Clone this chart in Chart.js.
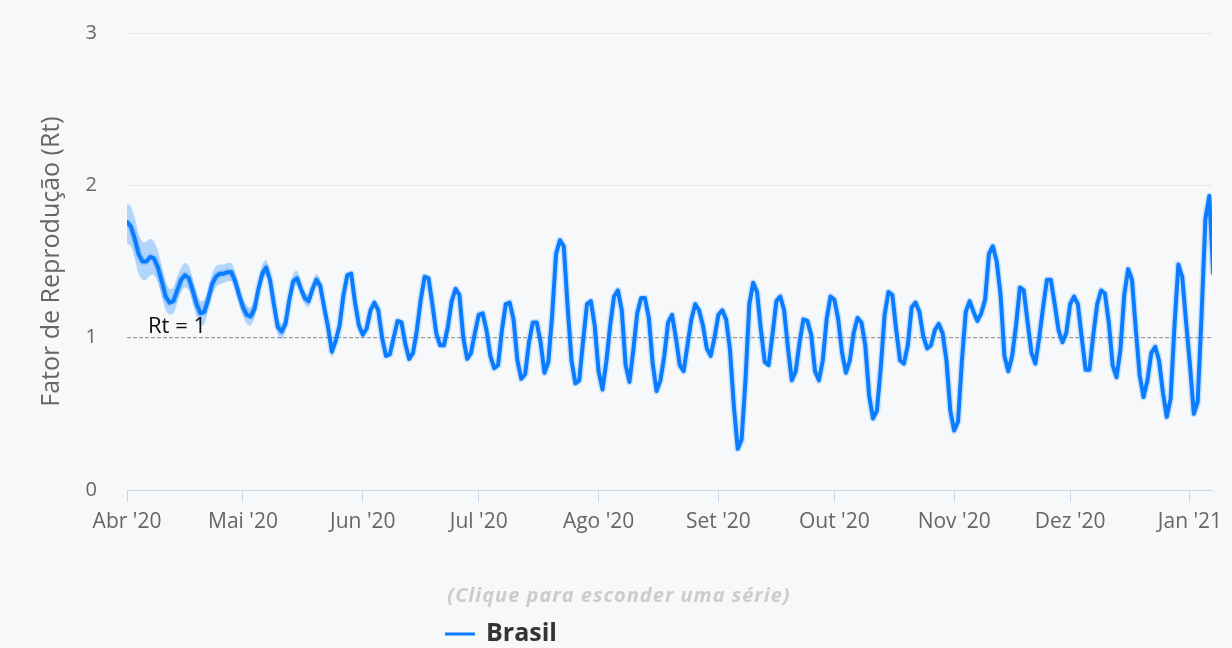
<!DOCTYPE html>
<html><head><meta charset="utf-8">
<script src="https://cdn.jsdelivr.net/npm/chart.js@4.4.1/dist/chart.umd.min.js"></script>
<style>
html,body{margin:0;padding:0;background:#f7f8fa;}
canvas{display:block;}
</style></head><body>
<canvas id="c" width="1232" height="648"></canvas>
<script>
// day index 0 = 1 Apr 2020
const monthTickDays = [0, 30, 61, 91, 122, 153, 183, 214, 244, 275];
const monthLabels = ["Abr '20", "Mai '20", "Jun '20", "Jul '20", "Ago '20", "Set '20", "Out '20", "Nov '20", "Dez '20", "Jan '21"];
const yTicks = [0, 1, 2, 3];
const seriesName = 'Brasil';
const yTitle = 'Fator de Reprodução (Rt)';
const refValue = 1;
const refLabel = 'Rt = 1';
const hintText = '(Clique para esconder uma série)';
const xMax = 280.7;

const rt = [
 1.76,1.73,1.65,1.55,1.50,1.50,1.53,1.52,1.46,1.37,
 1.27,1.23,1.24,1.31,1.38,1.41,1.39,1.31,1.22,1.16,
 1.17,1.25,1.35,1.40,1.42,1.42,1.43,1.43,1.37,1.28,
 1.20,1.15,1.14,1.19,1.32,1.42,1.46,1.38,1.22,1.07,
 1.04,1.09,1.25,1.37,1.39,1.32,1.26,1.24,1.32,1.38,
 1.34,1.20,1.07,0.91,0.98,1.08,1.28,1.41,1.42,1.23,
 1.08,1.02,1.06,1.18,1.23,1.18,1.00,0.88,0.89,1.00,
 1.11,1.10,0.96,0.86,0.90,1.05,1.25,1.40,1.39,1.22,
 1.03,0.95,0.95,1.07,1.24,1.32,1.28,1.00,0.86,0.90,
 1.03,1.15,1.16,1.05,0.88,0.80,0.82,1.05,1.22,1.23,
 1.12,0.85,0.73,0.76,0.97,1.10,1.10,0.97,0.77,0.84,
 1.15,1.55,1.64,1.60,1.20,0.85,0.70,0.72,0.98,1.22,
 1.24,1.08,0.78,0.66,0.84,1.08,1.27,1.31,1.18,0.82,
 0.71,0.92,1.16,1.26,1.26,1.13,0.83,0.65,0.72,0.88,
 1.10,1.15,1.00,0.82,0.78,0.95,1.12,1.22,1.18,1.08,
 0.93,0.88,1.00,1.15,1.18,1.12,0.92,0.55,0.27,0.33,
 0.72,1.22,1.36,1.30,1.05,0.84,0.82,1.02,1.24,1.27,
 1.18,0.93,0.72,0.78,0.97,1.12,1.11,1.02,0.78,0.72,
 0.85,1.12,1.27,1.25,1.12,0.90,0.77,0.85,1.03,1.13,
 1.10,0.95,0.62,0.47,0.52,0.80,1.15,1.30,1.28,1.05,
 0.85,0.83,0.95,1.20,1.23,1.17,1.01,0.93,0.95,1.05,
 1.09,1.03,0.85,0.52,0.39,0.45,0.85,1.17,1.24,1.17,
 1.11,1.16,1.25,1.55,1.60,1.50,1.28,0.88,0.78,0.88,
 1.08,1.33,1.31,1.10,0.90,0.83,1.00,1.20,1.38,1.38,
 1.22,1.05,0.97,1.03,1.22,1.27,1.22,1.00,0.79,0.79,
 1.02,1.22,1.31,1.29,1.10,0.82,0.74,0.92,1.28,1.45,
 1.38,1.05,0.75,0.61,0.72,0.90,0.94,0.85,0.64,0.48,
 0.60,1.08,1.48,1.40,1.10,0.82,0.50,0.58,1.15,1.78,
 1.93,1.42
];

// confidence band (visible in the first weeks)
const bandLow = [
 1.62,1.60,1.52,1.42,1.38,1.38,1.41,1.41,1.36,1.27,
 1.18,1.15,1.16,1.23,1.30,1.33,1.31,1.23,1.14,1.08,
 1.09,1.18,1.28,1.33,1.35,1.36,1.37,1.37,1.31,1.22,
 1.14,1.09,1.08,1.13,1.26,1.37,1.41,1.33,1.17,1.02,
 0.99,1.04,1.20,1.33,1.35,1.28,1.22,1.20,1.28,1.34,
 1.30,1.16,1.03,0.87,0.94,1.05,1.25
];
const bandHigh = [
 1.88,1.86,1.79,1.68,1.63,1.63,1.65,1.63,1.57,1.47,
 1.37,1.32,1.33,1.40,1.46,1.49,1.47,1.39,1.30,1.24,
 1.25,1.32,1.42,1.47,1.48,1.48,1.49,1.49,1.43,1.34,
 1.26,1.21,1.20,1.25,1.37,1.48,1.51,1.43,1.27,1.12,
 1.09,1.14,1.30,1.42,1.44,1.36,1.30,1.28,1.36,1.42,
 1.38,1.24,1.11,0.95,1.02,1.11,1.31
];

const FONT = "'Open Sans', 'DejaVu Sans', sans-serif";
const LINE = '#0a7cff';
const toXY = arr => arr.map((v, i) => ({x: i, y: v}));

const textPlugin = {
  id: 'texts',
  afterDatasetsDraw(chart) {
    const {ctx, chartArea, scales} = chart;
    const y1 = scales.y.getPixelForValue(refValue);
    ctx.save();
    ctx.fillStyle = '#111';
    ctx.font = "22px " + FONT;
    ctx.textAlign = 'left';
    ctx.textBaseline = 'alphabetic';
    ctx.fillText(refLabel, chartArea.left + 21, y1 - 5);
    ctx.restore();
  },
  afterDraw(chart) {
    const {ctx} = chart;
    ctx.save();
    ctx.fillStyle = '#cccccc';
    ctx.font = "italic 700 20px " + FONT;
    ctx.letterSpacing = '1px';
    ctx.textAlign = 'center';
    ctx.textBaseline = 'middle';
    ctx.fillText(hintText, 619, 596);
    ctx.letterSpacing = '0px';
    ctx.strokeStyle = LINE;
    ctx.lineWidth = 3;
    ctx.beginPath(); ctx.moveTo(445, 634); ctx.lineTo(475, 634); ctx.stroke();
    ctx.fillStyle = '#333';
    ctx.font = "700 25px " + FONT;
    ctx.textAlign = 'left';
    ctx.fillText(seriesName, 486, 634);
    ctx.restore();
  }
};

new Chart(document.getElementById('c'), {
  type: 'line',
  data: {
    datasets: [
      {label: seriesName, data: toXY(rt), borderColor: LINE, borderWidth: 4, pointRadius: 0,
       tension: 0, borderJoinStyle: 'round', borderCapStyle: 'round', fill: false,
       clip: {left: 0, right: 0, top: 10, bottom: 10}},
      {label: 'halo', data: toXY(rt), borderColor: 'rgba(0,122,255,0.18)', borderWidth: 7, pointRadius: 0,
       tension: 0, borderJoinStyle: 'round', fill: false, clip: {left: 0, right: 0, top: 10, bottom: 10}},
      {label: 'upper', data: toXY(bandHigh), borderWidth: 0, pointRadius: 0, tension: 0.3,
       fill: '+1', backgroundColor: 'rgba(0,122,255,0.28)', clip: 0},
      {label: 'lower', data: toXY(bandLow), borderWidth: 0, pointRadius: 0, tension: 0.3, fill: false, clip: 0},
      {label: 'ref', data: [{x: 0, y: refValue}, {x: xMax, y: refValue}], borderColor: '#8a8a8a',
       borderWidth: 1, borderDash: [4, 2], pointRadius: 0, fill: false}
    ]
  },
  options: {
    responsive: false,
    animation: false,
    devicePixelRatio: 1,
    layout: {padding: {left: 0, right: 20, top: 33, bottom: 0}},
    plugins: {legend: {display: false}, tooltip: {enabled: false}},
    scales: {
      x: {
        type: 'linear', min: 0, max: xMax,
        afterFit(s) { s.height = 158; s.paddingLeft = 0; s.paddingRight = 0; },
        afterBuildTicks(s) { s.ticks = monthTickDays.map(v => ({value: v})); },
        ticks: {
          callback: v => monthLabels[monthTickDays.indexOf(v)],
          color: '#666', font: {family: FONT, size: 21}, padding: 7, maxRotation: 0, autoSkip: false
        },
        grid: {drawOnChartArea: false, drawTicks: true, tickLength: 12, color: '#ccd6eb'},
        border: {display: true, color: '#ccd6eb', width: 1}
      },
      y: {
        min: 0, max: 3,
        afterFit(s) { s.width = 127; s.paddingTop = 0; s.paddingBottom = 0; },
        afterBuildTicks(s) { s.ticks = yTicks.map(v => ({value: v})); },
        ticks: {color: '#666', font: {family: FONT, size: 20}, padding: 30},
        grid: {color: c => (c.tick && (c.tick.value === 0 || c.tick.value === refValue)) ? 'rgba(0,0,0,0)' : '#e6e6e6', drawTicks: false},
        border: {display: false},
        title: {display: true, text: yTitle, color: '#666', font: {family: FONT, size: 25}, padding: {top: 37, bottom: 0}}
      }
    }
  },
  plugins: [textPlugin]
});
</script>
</body></html>
